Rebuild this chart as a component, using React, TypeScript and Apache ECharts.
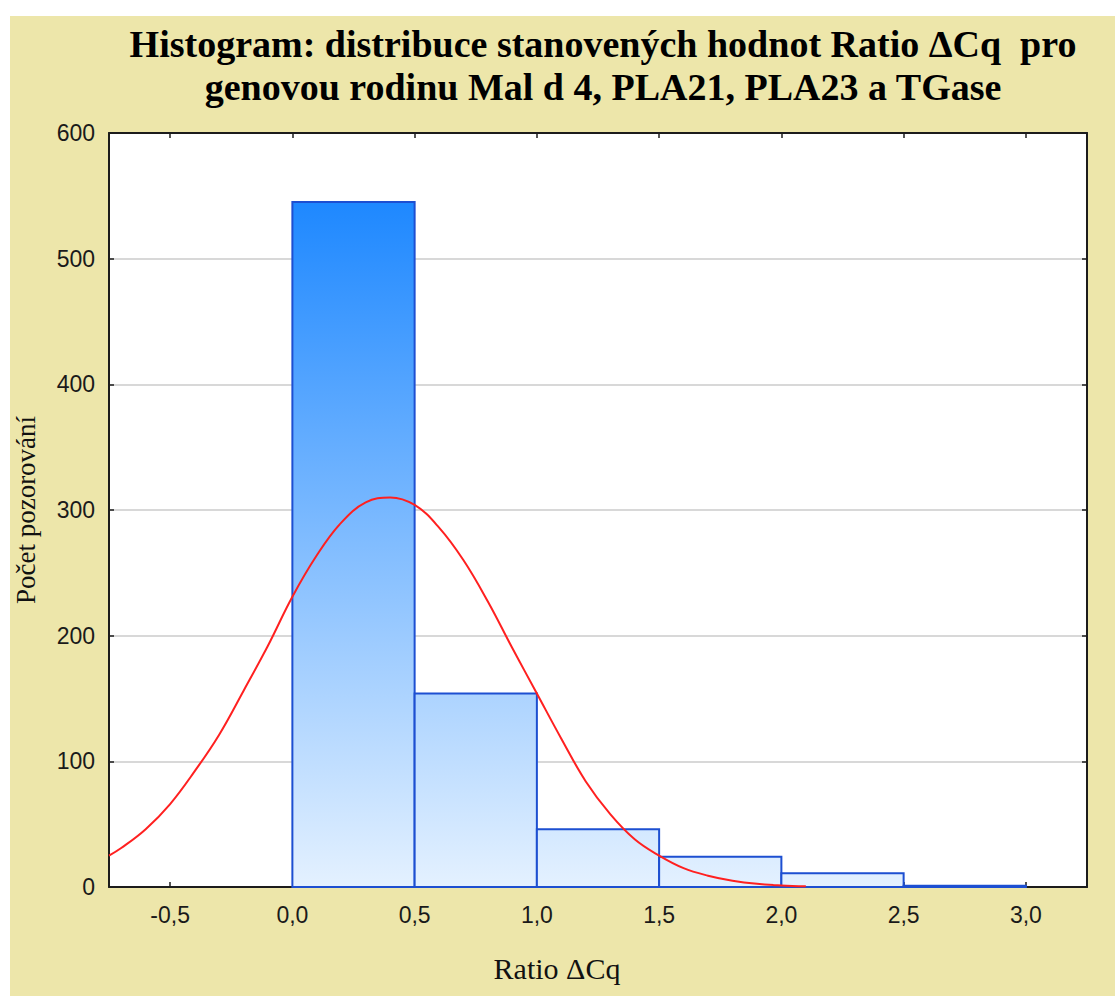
import React, { useEffect, useRef } from "react";
import * as echarts from "echarts";

// Histogram bins (Ratio ΔCq) and observed counts
const binStarts = [0.0, 0.5, 1.0, 1.5, 2.0, 2.5];
const binWidth = 0.5;
const counts = [545, 154, 46, 24, 11, 1];

// Fitted normal curve
const curveX = [-0.75, -0.7, -0.6, -0.5, -0.4, -0.3, -0.2, -0.1, 0.0, 0.1, 0.2, 0.3, 0.4, 0.5, 0.6, 0.7, 0.8, 0.9, 1.0, 1.1, 1.2, 1.3, 1.4, 1.5, 1.6, 1.7, 1.8, 1.9, 2.0, 2.1];
const curveY = [25, 31, 46, 66, 92, 121, 156, 192, 231, 264, 290, 306, 310, 304, 286, 260, 227, 190, 154, 118, 84, 58, 38, 25, 15, 9, 5, 2.5, 1.2, 0.5];

// Axis ticks
const xTicks = [-0.5, 0.0, 0.5, 1.0, 1.5, 2.0, 2.5, 3.0];
const xMin = -0.75;
const xMax = 3.25;
const yMin = 0;
const yMax = 600;
const yStep = 100;

const titleText = "Histogram: distribuce stanovených hodnot Ratio ΔCq  pro\ngenovou rodinu Mal d 4, PLA21, PLA23 a TGase";
const xName = "Ratio ΔCq";
const yName = "Počet pozorování";

const SERIF = "'Liberation Serif', 'Times New Roman', serif";
const SANS = "'Liberation Sans', Arial, sans-serif";

export default function App() {
  const ref = useRef<HTMLDivElement>(null);

  useEffect(() => {
    if (!ref.current) return;
    const chart = echarts.init(ref.current, null, { renderer: "svg" });
    const maxCount = Math.max(...counts);
    const fmt = (v: number) => v.toFixed(1).replace(".", ",");

    const axisLine = { show: true, onZero: false, lineStyle: { color: "#1c1c1c", width: 2 } };
    const tickStyle = { show: true, inside: true, length: 5, lineStyle: { color: "#1c1c1c", width: 1.5 } };

    const option: any = {
      animation: false,
      backgroundColor: "#ede6aa",
      title: {
        text: titleText,
        left: 588,
        top: 1,
        textAlign: "center",
        textStyle: {
          fontFamily: SERIF,
          fontWeight: "bold",
          fontSize: 38,
          lineHeight: 43,
          color: "#000",
        },
      },
      grid: {
        left: 99,
        right: 28,
        top: 117,
        bottom: 109,
        show: true,
        backgroundColor: "#ffffff",
        borderWidth: 0,
        containLabel: false,
        outerBoundsMode: "none",
      },
      xAxis: [
        {
          type: "value",
          min: xMin,
          max: xMax,
          position: "bottom",
          axisLine,
          axisTick: { ...tickStyle, customValues: xTicks },
          axisLabel: {
            customValues: xTicks,
            formatter: fmt,
            fontFamily: SANS,
            fontSize: 23,
            color: "#1a1a1a",
            margin: 16,
          },
          splitLine: { show: false },
          name: xName,
          nameLocation: "middle",
          nameGap: 66,
          nameTextStyle: {
            fontFamily: SERIF,
            fontSize: 30,
            color: "#111",
            padding: [0, 82, 0, 0],
          },
        },
        {
          type: "value",
          min: xMin,
          max: xMax,
          position: "top",
          axisLine,
          axisTick: { ...tickStyle, customValues: xTicks },
          axisLabel: { show: false, customValues: xTicks },
          splitLine: { show: false },
        },
      ],
      yAxis: [
        {
          type: "value",
          min: yMin,
          max: yMax,
          interval: yStep,
          position: "left",
          axisLine,
          axisTick: tickStyle,
          axisLabel: {
            fontFamily: SANS,
            fontSize: 23,
            color: "#1a1a1a",
            margin: 14,
          },
          splitLine: { show: true, lineStyle: { color: "#d8d8d8", width: 2 } },
          name: yName,
          nameLocation: "middle",
          nameGap: 70,
          nameTextStyle: {
            fontFamily: SERIF,
            fontSize: 27,
            color: "#111",
          },
        },
        {
          type: "value",
          min: yMin,
          max: yMax,
          interval: yStep,
          position: "right",
          axisLine,
          axisTick: tickStyle,
          axisLabel: { show: false },
          splitLine: { show: false },
        },
      ],
      series: [
        {
          type: "custom",
          name: "Četnost",
          xAxisIndex: 0,
          yAxisIndex: 0,
          z: 2,
          encode: { x: [0, 1], y: 2 },
          data: binStarts.map((s, i) => [s, s + binWidth, counts[i]]),
          renderItem: (params: any, api: any) => {
            const x0 = api.value(0);
            const x1 = api.value(1);
            const v = api.value(2);
            const pBase = api.coord([x0, 0]);
            const pTop = api.coord([x1, v]);
            const yTop = api.coord([x0, maxCount])[1];
            const fill = new echarts.graphic.LinearGradient(
              0,
              yTop,
              0,
              pBase[1],
              [
                { offset: 0, color: "#1e88ff" },
                { offset: 1, color: "#e4f1ff" },
              ],
              true
            );
            return {
              type: "rect",
              shape: {
                x: pBase[0],
                y: pTop[1],
                width: pTop[0] - pBase[0],
                height: pBase[1] - pTop[1],
              },
              style: { fill, stroke: "#1d4fd1", lineWidth: 2 },
            };
          },
        },
        {
          type: "line",
          name: "Normální",
          xAxisIndex: 0,
          yAxisIndex: 0,
          z: 5,
          data: curveX.map((x, i) => [x, curveY[i]]),
          smooth: 0.4,
          showSymbol: false,
          symbol: "none",
          lineStyle: { color: "#ff2020", width: 2 },
        },
      ],
    };

    chart.setOption(option);
    return () => chart.dispose();
  }, []);

  return (
    <div
      ref={ref}
      style={{ position: "fixed", left: 10, top: 16, width: 1105, height: 980 }}
    />
  );
}
